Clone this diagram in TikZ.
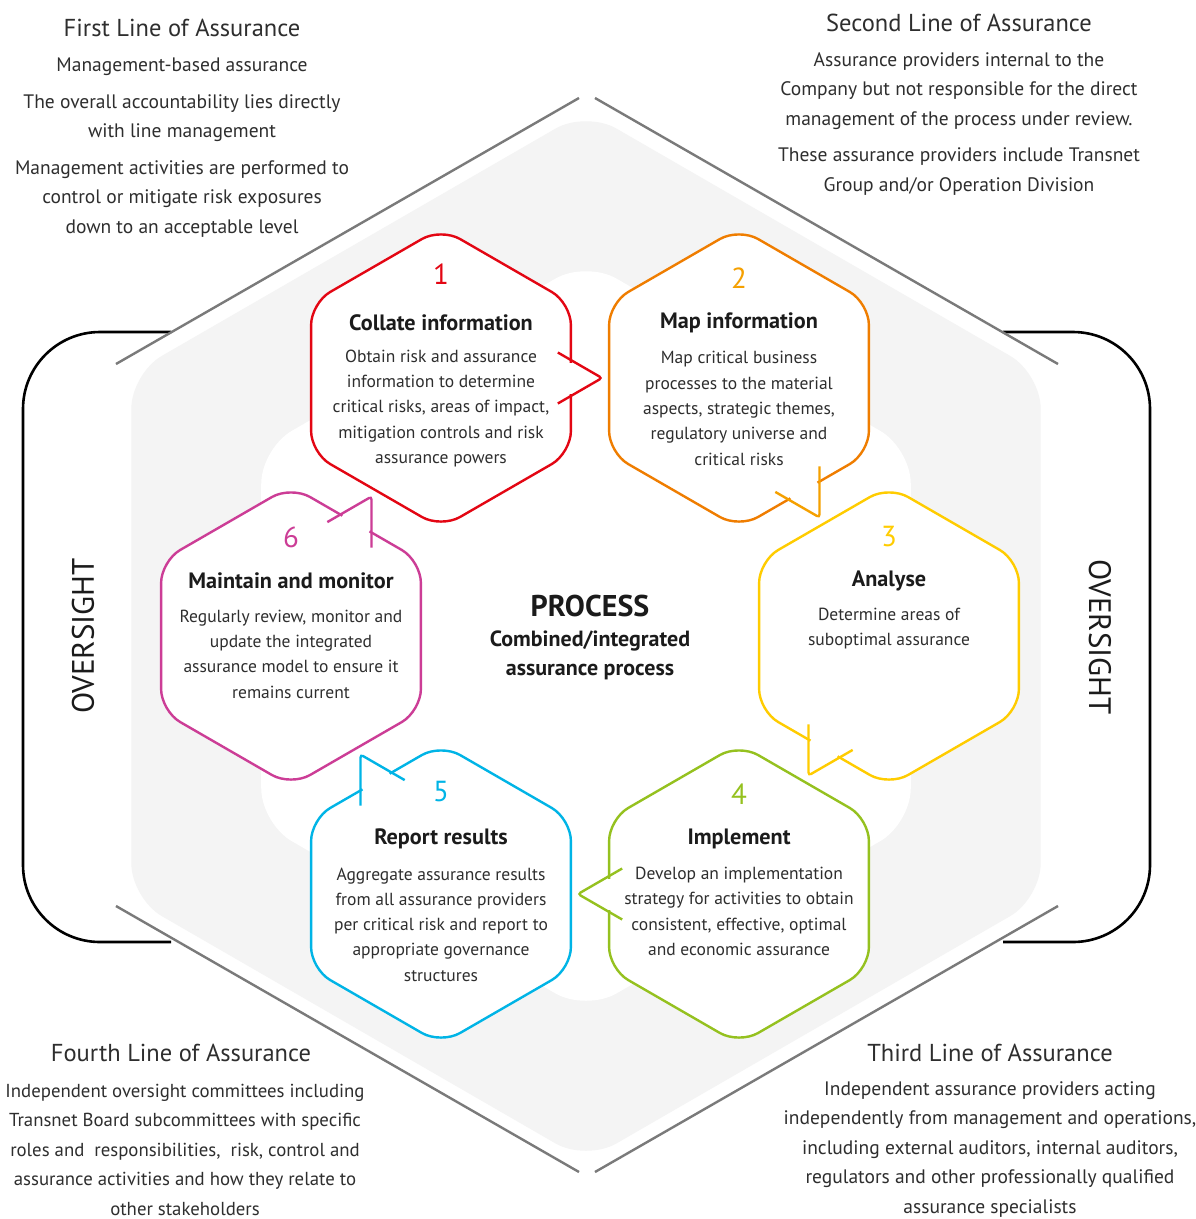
\documentclass[tikz,border=0pt]{standalone}
\usepackage{fontspec}
\setmainfont{PT Sans}
\usetikzlibrary{calc}
\definecolor{cred}{HTML}{E30613}
\definecolor{corange}{HTML}{EF7D00}
\definecolor{ctail}{HTML}{F5A000}
\definecolor{cyellow}{HTML}{FFCC00}
\definecolor{cgreen}{HTML}{95C11F}
\definecolor{cblue}{HTML}{00B4E6}
\definecolor{cmag}{HTML}{CC3D96}
\definecolor{cgray}{HTML}{7A7A7A}
\definecolor{bgfill}{HTML}{F4F4F4}
\definecolor{txt}{HTML}{2E2E2E}
\definecolor{titlecol}{HTML}{1B1B1B}
% hexagon with speech tail: #1 x, #2 y, #3 colour, #4 tail direction (clockwise from east), #5 tail colour
\newcommand{\hexshape}[5]{%
  \begin{scope}[shift={(#1,#2)}]
    \fill[white, rounded corners=22pt] ($(270:150)!0.5!(330:150)$) -- (330:150) -- (30:150) -- (90:150) -- (150:150) -- (210:150) -- (270:150) -- cycle;
    \draw[#3, line width=2.4pt, rounded corners=22pt] ($(270:150)!0.5!(330:150)$) -- (330:150) -- (30:150) -- (90:150) -- (150:150) -- (210:150) -- (270:150) -- cycle;
    \draw[white, line width=4.6pt] ($(#4:129.9)+(#4+90:15.5)$) -- ($(#4:129.9)+(#4-90:15.5)$);
    \draw[#5, line width=2.4pt, rounded corners=3pt] ($(#4:161)+(#4+150:51)$) -- (#4:161) -- ($(#4:161)+(#4+210:51)$);
  \end{scope}}
\begin{document}
\begin{tikzpicture}[x=1pt,y=-1pt,
  outertitle/.style={font=\fontsize{24.5}{28}\selectfont, text=txt, inner sep=0pt},
  outerbody/.style={font=\fontsize{19.5}{29.5}\selectfont, text=txt, align=center, inner sep=0pt},
  hexnum/.style={font=\fontsize{29}{32}\selectfont, inner sep=0pt},
  hextitle/.style={font=\bfseries\fontsize{22.2}{25}\selectfont, text=titlecol, inner sep=0pt},
  hexbody/.style={font=\fontsize{17.5}{25.3}\selectfont, align=center, text=txt, inner sep=0pt},
  grayline/.style={draw=cgray, line width=2.4pt},
  bracket/.style={draw=black, line width=2.6pt, rounded corners=77pt},
  oversight/.style={font=\fontsize{31}{33}\selectfont, text=titlecol, inner sep=0pt},
  proc/.style={font=\bfseries\fontsize{30}{33}\selectfont, text=titlecol, inner sep=0pt},
  procsub/.style={font=\bfseries\fontsize{22}{29}\selectfont, text=titlecol, align=center, inner sep=0pt},
]
\useasboundingbox (0,0) rectangle (1195,1219);
\fill[white] (0,0) rectangle (1195,1219);

% background hexagons
\coordinate (O) at (586,636);
\foreach \a in {270,330,30,90,150,210}{
  \coordinate (F\a) at ($(O)+(\a:525)$);
  \coordinate (W\a) at ($(O)+(\a:375)$);
}
\fill[bgfill, rounded corners=35pt] ($(F270)!0.5!(F330)$) -- (F330) -- (F30) -- (F90) -- (F150) -- (F210) -- (F270) -- cycle;
\fill[white, rounded corners=35pt] ($(W270)!0.5!(W330)$) -- (W330) -- (W30) -- (W90) -- (W150) -- (W210) -- (W270) -- cycle;

% oversight brackets
\draw[bracket] (171,332) -- (23,332) -- (23,942) -- (171,942);
\draw[bracket] (1003,332) -- (1150,332) -- (1150,942) -- (1003,942);

% grey assurance lines
\draw[grayline] (579,98) -- (116,364);
\draw[grayline] (595,98) -- (1058,364);
\draw[grayline] (116,906) -- (579,1172);
\draw[grayline] (1058,906) -- (595,1172);

% process hexagons
\hexshape{441}{378}{cred}{0}{cred}
\hexshape{739}{378}{corange}{60}{ctail}
\hexshape{889}{636}{cyellow}{120}{cyellow}
\hexshape{739}{894}{cgreen}{180}{cgreen}
\hexshape{441}{894}{cblue}{240}{cblue}
\hexshape{291}{636}{cmag}{300}{cmag}

% hexagon 1
\node[hexnum, text=cred] (n1) at (441,274) {1};
\node[hextitle] (t1) at (441,323) {Collate information};
\node[hexbody] (b1) at (441,408.5) {Obtain risk and assurance\\information to determine\\critical risks, areas of impact,\\mitigation controls and risk\\assurance powers};
% hexagon 2
\node[hexnum, text=ctail] (n2) at (739,278) {2};
\node[hextitle] (t2) at (739,323) {Map information};
\node[hexbody] (b2) at (739,408.5) {Map critical business\\processes to the material\\aspects, strategic themes,\\regulatory universe and\\critical risks};
% hexagon 3
\node[hexnum, text=cyellow] (n3) at (889,537) {3};
\node[hextitle] (t3) at (889,581) {Analyse};
\node[hexbody] (b3) at (889,628.5) {Determine areas of\\suboptimal assurance};
% hexagon 4
\node[hexnum, text=cgreen] (n4) at (739,794) {4};
\node[hextitle] (t4) at (739,839) {Implement};
\node[hexbody] (b4) at (739,911.5) {Develop an implementation\\strategy for activities to obtain\\consistent, effective, optimal\\and economic assurance};
% hexagon 5
\node[hexnum, text=cblue] (n5) at (441,792) {5};
\node[hextitle] (t5) at (441,839) {Report results};
\node[hexbody] (b5) at (441,924.5) {Aggregate assurance results\\from all assurance providers\\per critical risk and report to\\appropriate governance\\structures};
% hexagon 6
\node[hexnum, text=cmag] (n6) at (291,537) {6};
\node[hextitle] (t6) at (291,581) {Maintain and monitor};
\node[hexbody] (b6) at (291,654) {Regularly review, monitor and\\update the integrated\\assurance model to ensure it\\remains current};

% centre
\node[proc] (pr) at (590,606) {PROCESS};
\node[procsub] (prs) at (590,655.5) {Combined/integrated\\assurance process};

% oversight labels
\node[oversight, rotate=90] (ovl) at (83,636) {OVERSIGHT};
\node[oversight, rotate=-90] (ovr) at (1100,637) {OVERSIGHT};

% first line
\node[outertitle] (l1t) at (182,28) {First Line of Assurance};
\node[outerbody] (l1a) at (182,67) {Management-based assurance};
\node[outerbody] (l1b) at (182,118) {The overall accountability lies directly\\with line management};
\node[outerbody] (l1c) at (182,199) {Management activities are performed to\\control or mitigate risk exposures\\down to an acceptable level};
% second line
\node[outertitle] (l2t) at (959,23) {Second Line of Assurance};
\node[outerbody] (l2a) at (959,91) {Assurance providers internal to the\\Company but not responsible for the direct\\management of the process under review.};
\node[outerbody] (l2b) at (959,171.5) {These assurance providers include Transnet\\Group and/or Operation Division};
% fourth line
\node[outertitle] (l4t) at (181,1053) {Fourth Line of Assurance};
\node[outerbody, font=\fontsize{18.8}{29.5}\selectfont] (l4a) at (185,1149.5) {Independent oversight committees including\\Transnet Board subcommittees with specific\\roles and \ responsibilities, \ risk, control and\\assurance activities and how they relate to\\other stakeholders};
% third line
\node[outertitle] (l3t) at (990,1053) {Third Line of Assurance};
\node[outerbody] (l3a) at (990,1149.5) {Independent assurance providers acting\\independently from management and operations,\\including external auditors, internal auditors,\\regulators and other professionally qualified\\assurance specialists};
\end{tikzpicture}
\end{document}
